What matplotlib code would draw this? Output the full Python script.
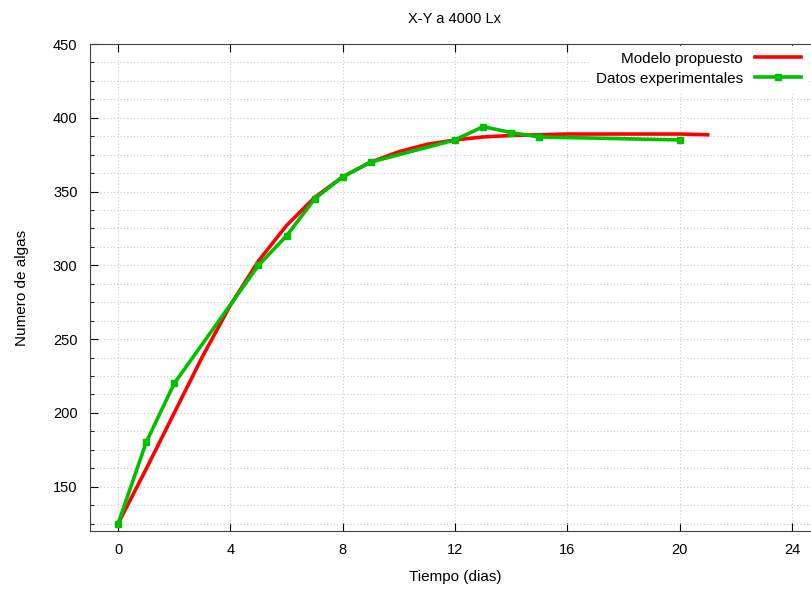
import matplotlib
matplotlib.use("Agg")
import matplotlib.pyplot as plt
from matplotlib.ticker import MultipleLocator

plt.rcParams['font.family'] = ['Liberation Sans', 'DejaVu Sans']

title = "X-Y a 4000 Lx"
xlabel = "Tiempo (dias)"
ylabel = "Numero de algas"

model_t = [0, 1, 2, 3, 4, 5, 6, 7, 8, 9, 10, 11, 12, 13, 14, 15, 16, 17, 18, 19, 20, 21]
model_y = [125, 162, 200, 238, 273, 303, 327, 346, 360, 370, 377, 382, 385, 387, 388, 388.5, 389, 389, 389, 389, 389, 388.5]

exp_t = [0, 1, 2, 5, 6, 7, 8, 9, 12, 13, 14, 15, 20]
exp_y = [125, 180, 220, 300, 320, 345, 360, 370, 385, 394, 390, 387, 385]

fig = plt.figure(figsize=(8.12, 5.89), dpi=100)
ax = fig.add_axes([90/812, 1-531/589, (820-90)/812, (531-44)/589])

ax.plot(model_t, model_y, color='#ff0000', lw=2.6, label='Modelo propuesto', zorder=3)
ax.plot(exp_t, exp_y, color='#00c000', lw=2.6, marker='s', ms=5, label='Datos experimentales', zorder=4)

ax.set_xlim(-1, 25)
ax.set_ylim(120, 450)
ax.xaxis.set_major_locator(MultipleLocator(4))
ax.yaxis.set_major_locator(MultipleLocator(50))
ax.yaxis.set_minor_locator(MultipleLocator(12.5))
ax.set_xticks(range(0, 25, 4))

ax.grid(True, which='major', axis='both', color='#c8c8c8', linestyle=(0, (1, 2)), lw=0.8)
ax.grid(True, which='minor', axis='y', color='#c8c8c8', linestyle=(0, (1, 2)), lw=0.8)
ax.set_axisbelow(True)

ax.tick_params(axis='both', which='both', direction='in', labelsize=10.5, colors='black')
ax.tick_params(axis='x', which='major', top=True, length=6, pad=9)
ax.tick_params(axis='y', which='major', length=6, pad=9)
ax.tick_params(axis='y', which='minor', length=3)
for s in ax.spines.values():
    s.set_color('#404040')
    s.set_linewidth(0.8)

ax.set_title(title, fontsize=10.5, pad=15)
ax.set_xlabel(xlabel, fontsize=11, labelpad=9)
ax.set_ylabel(ylabel, fontsize=11, labelpad=17)

leg = ax.legend(loc='upper right', bbox_to_anchor=((810-90)/(820-90), 1.003),
                markerfirst=False, frameon=True, fontsize=11, handlelength=3.0,
                borderaxespad=0.2, labelspacing=0.4, fancybox=False)
leg.get_frame().set_facecolor('white')
leg.get_frame().set_edgecolor('white')
leg.get_frame().set_alpha(1.0)
for t in leg.get_texts():
    t.set_ha('right')

fig.savefig('out.png', dpi=100)
